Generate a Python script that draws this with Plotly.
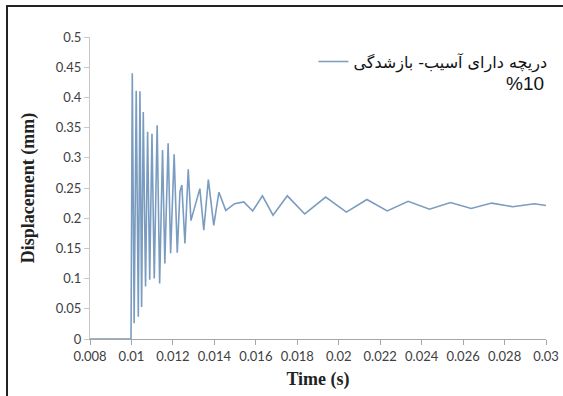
import plotly.graph_objects as go

# Displacement response of the damaged valve (10% opening)
time_s = [0.008, 0.00998, 0.01004, 0.01013, 0.01023, 0.01033, 0.01041, 0.01049,
          0.01057, 0.01068, 0.01078, 0.01088, 0.01099, 0.01110, 0.01124, 0.01136,
          0.01150, 0.01161, 0.01177, 0.01189, 0.01206, 0.01221, 0.01234, 0.01243,
          0.01258, 0.01274, 0.01287, 0.01330, 0.01349, 0.01371, 0.01397, 0.01422,
          0.01455, 0.01498, 0.01542, 0.01585, 0.01632, 0.01683, 0.01752, 0.01836,
          0.01937, 0.02037, 0.02136, 0.02234, 0.02335, 0.02438, 0.02539, 0.02639,
          0.02738, 0.02839, 0.02944, 0.03000]
displacement_mm = [0, 0, 0.440, 0.026, 0.411, 0.037, 0.410, 0.053,
                   0.376, 0.087, 0.343, 0.098, 0.340, 0.100, 0.354, 0.092,
                   0.313, 0.125, 0.324, 0.142, 0.306, 0.143, 0.244, 0.255,
                   0.158, 0.281, 0.196, 0.249, 0.180, 0.264, 0.188, 0.243,
                   0.213, 0.224, 0.227, 0.212, 0.237, 0.205, 0.237, 0.207,
                   0.235, 0.210, 0.231, 0.212, 0.228, 0.215, 0.226, 0.216,
                   0.225, 0.219, 0.224, 0.221]

x_ticks = [0.008, 0.01, 0.012, 0.014, 0.016, 0.018, 0.02, 0.022, 0.024, 0.026, 0.028, 0.03]
x_tick_text = ["0.008", "0.01", "0.012", "0.014", "0.016", "0.018", "0.02",
               "0.022", "0.024", "0.026", "0.028", "0.03"]
y_ticks = [0, 0.05, 0.1, 0.15, 0.2, 0.25, 0.3, 0.35, 0.4, 0.45, 0.5]
y_tick_text = ["0", "0.05", "0.1", "0.15", "0.2", "0.25", "0.3", "0.35", "0.4", "0.45", "0.5"]

series_name = "دریچه دارای آسیب- بازشدگی"
series_suffix = "%10"

fig = go.Figure()
fig.add_trace(go.Scatter(
    x=time_s, y=displacement_mm, mode="lines", name=series_name,
    line=dict(color="#7a9cc0", width=1.6),
))

tick_font = dict(family="Lato, Carlito, sans-serif", size=13, color="#404040")
title_font = dict(family="Liberation Serif, Times New Roman, serif", size=18, color="#222222")

fig.update_layout(
    width=563, height=396,
    margin=dict(l=90, r=17, t=37, b=57, autoexpand=False),
    paper_bgcolor="white", plot_bgcolor="white",
    showlegend=True,
    legend=dict(
        x=0.49, y=0.975, xanchor="left", yanchor="top",
        bgcolor="rgba(0,0,0,0)",
        font=dict(family="DejaVu Sans, Arial, sans-serif", size=16, color="#111111"),
        itemwidth=30,
    ),
    xaxis=dict(
        range=[0.008, 0.03], tickvals=x_ticks, ticktext=x_tick_text, tickangle=0,
        showgrid=False, zeroline=False, showline=True, linecolor="#a6a6a6", linewidth=1,
        ticks="outside", ticklen=5, tickcolor="#a6a6a6", tickfont=tick_font,
        title=dict(text="<b>Time (s)</b>", font=title_font, standoff=9),
    ),
    yaxis=dict(
        range=[0, 0.5], tickvals=y_ticks, ticktext=y_tick_text,
        showgrid=False, zeroline=False, showline=True, linecolor="#c8c8c8", linewidth=1,
        ticks="outside", ticklen=5, tickcolor="#c8c8c8", tickfont=tick_font,
        title=dict(text="<b>Displacement (mm)</b>", font=title_font, standoff=16),
    ),
)

fig.add_annotation(
    xref="paper", yref="paper", x=1.0, y=0.845, xanchor="right", yanchor="middle",
    text=series_suffix, showarrow=False,
    font=dict(family="Arial, DejaVu Sans, sans-serif", size=19, color="#111111"),
)

# frame around the chart area (left and top edges visible)
fig.add_shape(
    type="rect", xref="paper", yref="paper",
    x0=-0.182, x1=1.08, y0=-0.25, y1=1.1026,
    line=dict(color="#222222", width=2), fillcolor="rgba(0,0,0,0)", layer="above",
)

fig.write_html("out.html")
